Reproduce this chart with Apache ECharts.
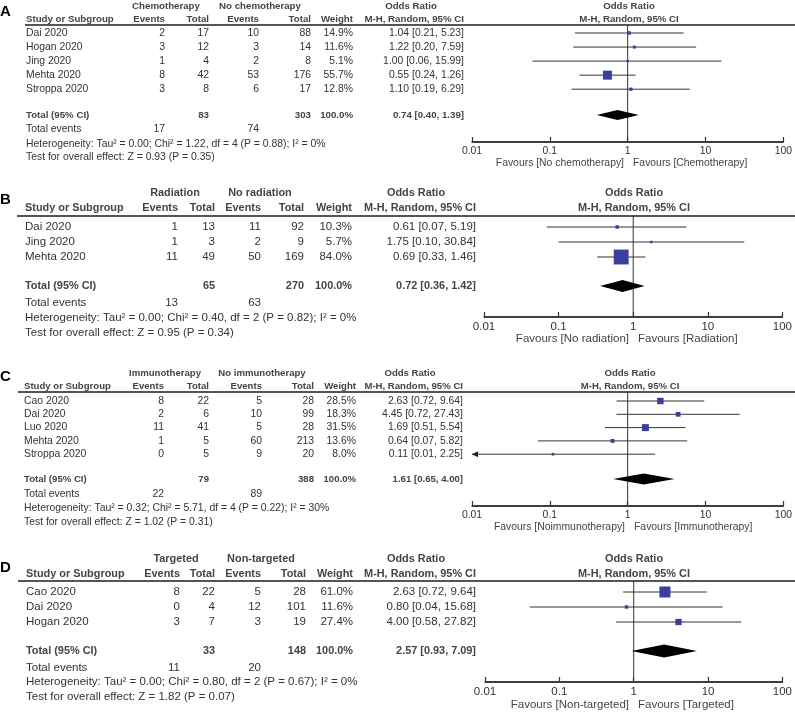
<!DOCTYPE html>
<html><head><meta charset="utf-8">
<script src="https://cdn.jsdelivr.net/npm/echarts@6/dist/echarts.min.js"></script>
<style>html,body{margin:0;padding:0;background:#fff}#c{width:795px;height:717px}</style>
</head><body><div id="c"></div><script>
// ---------------- DATA ----------------
const panelLetters = ['A', 'B', 'C', 'D'];
const tickLabels = ['0.01', '0.1', '1', '10', '100'];
const nullEffect = 1;

// Panel A
const groupsA = ['Chemotherapy', 'No chemotherapy'];
const studiesA = ['Dai 2020', 'Hogan 2020', 'Jing 2020', 'Mehta 2020', 'Stroppa 2020'];
const expEventsA = [2, 3, 1, 8, 3];
const expTotalA = [17, 12, 4, 42, 8];
const ctlEventsA = [10, 3, 2, 53, 6];
const ctlTotalA = [88, 14, 8, 176, 17];
const weightA = [14.9, 11.6, 5.1, 55.7, 12.8];
const orA = [1.04, 1.22, 1.00, 0.55, 1.10];
const lowerA = [0.21, 0.20, 0.06, 0.24, 0.19];
const upperA = [5.23, 7.59, 15.99, 1.26, 6.29];
const totalsA = [83, 303];
const totalEventsA = [17, 74];
const pooledA = [0.74, 0.40, 1.39];
const hetA = 'Tau\u00B2 = 0.00; Chi\u00B2 = 1.22, df = 4 (P = 0.88); I\u00B2 = 0%';
const testA = 'Z = 0.93 (P = 0.35)';
const favoursA = ['Favours [No chemotherapy]', 'Favours [Chemotherapy]'];

// Panel B
const groupsB = ['Radiation', 'No radiation'];
const studiesB = ['Dai 2020', 'Jing 2020', 'Mehta 2020'];
const expEventsB = [1, 1, 11];
const expTotalB = [13, 3, 49];
const ctlEventsB = [11, 2, 50];
const ctlTotalB = [92, 9, 169];
const weightB = [10.3, 5.7, 84.0];
const orB = [0.61, 1.75, 0.69];
const lowerB = [0.07, 0.10, 0.33];
const upperB = [5.19, 30.84, 1.46];
const totalsB = [65, 270];
const totalEventsB = [13, 63];
const pooledB = [0.72, 0.36, 1.42];
const hetB = 'Tau\u00B2 = 0.00; Chi\u00B2 = 0.40, df = 2 (P = 0.82); I\u00B2 = 0%';
const testB = 'Z = 0.95 (P = 0.34)';
const favoursB = ['Favours [No radiation]', 'Favours [Radiation]'];

// Panel C
const groupsC = ['Immunotherapy', 'No immunotherapy'];
const studiesC = ['Cao 2020', 'Dai 2020', 'Luo 2020', 'Mehta 2020', 'Stroppa 2020'];
const expEventsC = [8, 2, 11, 1, 0];
const expTotalC = [22, 6, 41, 5, 5];
const ctlEventsC = [5, 10, 5, 60, 9];
const ctlTotalC = [28, 99, 28, 213, 20];
const weightC = [28.5, 18.3, 31.5, 13.6, 8.0];
const orC = [2.63, 4.45, 1.69, 0.64, 0.11];
const lowerC = [0.72, 0.72, 0.51, 0.07, 0.01];
const upperC = [9.64, 27.43, 5.54, 5.82, 2.25];
const totalsC = [79, 388];
const totalEventsC = [22, 89];
const pooledC = [1.61, 0.65, 4.00];
const hetC = 'Tau\u00B2 = 0.32; Chi\u00B2 = 5.71, df = 4 (P = 0.22); I\u00B2 = 30%';
const testC = 'Z = 1.02 (P = 0.31)';
const favoursC = ['Favours [Noimmunotherapy]', 'Favours [Immunotherapy]'];

// Panel D
const groupsD = ['Targeted', 'Non-targeted'];
const studiesD = ['Cao 2020', 'Dai 2020', 'Hogan 2020'];
const expEventsD = [8, 0, 3];
const expTotalD = [22, 4, 7];
const ctlEventsD = [5, 12, 3];
const ctlTotalD = [28, 101, 19];
const weightD = [61.0, 11.6, 27.4];
const orD = [2.63, 0.80, 4.00];
const lowerD = [0.72, 0.04, 0.58];
const upperD = [9.64, 15.68, 27.82];
const totalsD = [33, 148];
const totalEventsD = [11, 20];
const pooledD = [2.57, 0.93, 7.09];
const hetD = 'Tau\u00B2 = 0.00; Chi\u00B2 = 0.80, df = 2 (P = 0.67); I\u00B2 = 0%';
const testD = 'Z = 1.82 (P = 0.07)';
const favoursD = ['Favours [Non-targeted]', 'Favours [Targeted]'];

const panelsData = [
  {groups: groupsA, studies: studiesA, e1: expEventsA, t1: expTotalA, e2: ctlEventsA, t2: ctlTotalA, w: weightA, or: orA, lo: lowerA, hi: upperA, totals: totalsA, tev: totalEventsA, pooled: pooledA, het: hetA, test: testA, fav: favoursA},
  {groups: groupsB, studies: studiesB, e1: expEventsB, t1: expTotalB, e2: ctlEventsB, t2: ctlTotalB, w: weightB, or: orB, lo: lowerB, hi: upperB, totals: totalsB, tev: totalEventsB, pooled: pooledB, het: hetB, test: testB, fav: favoursB},
  {groups: groupsC, studies: studiesC, e1: expEventsC, t1: expTotalC, e2: ctlEventsC, t2: ctlTotalC, w: weightC, or: orC, lo: lowerC, hi: upperC, totals: totalsC, tev: totalEventsC, pooled: pooledC, het: hetC, test: testC, fav: favoursC},
  {groups: groupsD, studies: studiesD, e1: expEventsD, t1: expTotalD, e2: ctlEventsD, t2: ctlTotalD, w: weightD, or: orD, lo: lowerD, hi: upperD, totals: totalsD, tev: totalEventsD, pooled: pooledD, het: hetD, test: testD, fav: favoursD}
];

// ---------------- LAYOUT ----------------
const layouts = [
  {font: 10.4, bfont: 9.7, letterY: 12, h1: 6, h2: 19, lineY: 25, lineX0: 25, row0: 33, rowH: 14.05, totalY: 115, evY: 129, hetY: 144, testY: 157, axisY: 142, favY: 163, axL: 472, axR: 786, studyX: 26, cols: [165, 209, 259, 311, 353, 464], grpX: [166, 260], orHdrX: 411, dh: 5, k: 0.54},
  {font: 11.5, bfont: 10.9, letterY: 200, h1: 193, h2: 208, lineY: 216, lineX0: 17, row0: 227, rowH: 15, totalY: 286, evY: 303, hetY: 318, testY: 333, axisY: 317, favY: 339, axL: 484, axR: 784, studyX: 25, cols: [178, 215, 261, 304, 352, 476], grpX: [175, 260], orHdrX: 416, dh: 6, k: 0.67},
  {font: 10.4, bfont: 9.6, letterY: 377, h1: 373, h2: 386, lineY: 392, lineX0: 18, row0: 401, rowH: 13.3, totalY: 479, evY: 494, hetY: 508, testY: 522, axisY: 506, favY: 527, axL: 472, axR: 788, studyX: 24, cols: [164, 209, 262, 314, 356, 463], grpX: [165, 262], orHdrX: 410, dh: 5.5, k: 0.62},
  {font: 11.5, bfont: 10.9, letterY: 568, h1: 559, h2: 574, lineY: 581, lineX0: 18, row0: 592, rowH: 15, totalY: 651, evY: 668, hetY: 682, testY: 697, axisY: 682, favY: 705, axL: 485, axR: 783, studyX: 26, cols: [180, 215, 261, 306, 353, 476], grpX: [176, 261], orHdrX: 416, dh: 6.5, k: 0.62}
];

const FONT = '"Liberation Sans", Arial, sans-serif';
const TXT = '#333';
const HDR = '#444';
const SQ = '#3a3f9e';
const LN = '#333';
const X_MIN = 0.01, X_MAX = 100;

function fmtOR(a) { return a[0].toFixed(2) + ' [' + a[1].toFixed(2) + ', ' + a[2].toFixed(2) + ']'; }

const grids = [], xAxes = [], yAxes = [], series = [], graphics = [];

function txt(x, y, s, size, bold, align, color) {
  graphics.push({
    type: 'text', x: x, y: y, silent: true,
    style: {text: s, font: (bold ? 'bold ' : '') + size + 'px ' + FONT, fill: color || TXT,
      textAlign: align || 'left', textVerticalAlign: 'middle'}
  });
}

panelsData.forEach(function (P, pi) {
  const L = layouts[pi];
  const f = L.font, bf = L.bfont;
  const yMin = (L.lineY - L.row0) / L.rowH;
  const yMax = (L.axisY - L.row0) / L.rowH;
  const totalRow = (L.totalY - L.row0) / L.rowH;
  const rowY = function (r) { return L.row0 + r * L.rowH; };

  grids.push({left: L.axL, top: L.lineY, width: L.axR - L.axL, height: L.axisY - L.lineY, containLabel: false});
  xAxes.push({
    gridIndex: pi, type: 'log', logBase: 10, min: X_MIN, max: X_MAX, position: 'bottom',
    axisLine: {show: true, onZero: false, lineStyle: {color: LN, width: 1.5}},
    axisTick: {show: true, inside: true, length: 5, lineStyle: {color: LN, width: 1.2}},
    minorTick: {show: false}, splitLine: {show: false},
    axisLabel: {margin: 4, fontSize: f, fontFamily: FONT, color: TXT,
      formatter: function (v) { return tickLabels[Math.round(Math.log10(v)) + 2]; }}
  });
  yAxes.push({gridIndex: pi, type: 'value', inverse: true, min: yMin, max: yMax, show: false});

  // null-effect line
  series.push({
    type: 'line', xAxisIndex: pi, yAxisIndex: pi, symbol: 'none', silent: true, z: 1,
    lineStyle: {color: LN, width: 1}, data: [[nullEffect, yMin], [nullEffect, yMax]]
  });
  // axis baseline (scale range)
  series.push({
    type: 'line', xAxisIndex: pi, yAxisIndex: pi, symbol: 'none', silent: true, z: 1, clip: false,
    lineStyle: {color: LN, width: 1.5}, data: [[X_MIN, yMax], [X_MAX, yMax]]
  });

  // studies
  const k = L.k;
  series.push({
    type: 'custom', xAxisIndex: pi, yAxisIndex: pi, silent: true, z: 3,
    data: P.studies.map(function (s, i) { return [P.or[i], i, P.lo[i], P.hi[i], P.w[i]]; }),
    renderItem: function (params, api) {
      const est = api.value(0), r = api.value(1), lo = api.value(2), hi = api.value(3), w = api.value(4);
      const p0 = api.coord([Math.max(lo, X_MIN), r]);
      const p1 = api.coord([Math.min(hi, X_MAX), r]);
      const pc = api.coord([est, r]);
      const s = Math.max(2.5, k * Math.pow(w, 0.7));
      const ch = [
        {type: 'line', shape: {x1: p0[0], y1: p0[1], x2: p1[0], y2: p1[1]}, style: {stroke: LN, lineWidth: 1}},
        {type: 'rect', shape: {x: pc[0] - s / 2, y: pc[1] - s / 2, width: s, height: s}, style: {fill: SQ}}
      ];
      if (lo <= X_MIN) {
        ch.push({type: 'polygon', shape: {points: [[p0[0], p0[1]], [p0[0] + 6, p0[1] - 3], [p0[0] + 6, p0[1] + 3]]}, style: {fill: '#222'}});
      }
      return {type: 'group', children: ch};
    }
  });

  // pooled diamond
  const dh = L.dh;
  series.push({
    type: 'custom', xAxisIndex: pi, yAxisIndex: pi, silent: true, z: 3,
    data: [[P.pooled[0], totalRow, P.pooled[1], P.pooled[2]]],
    renderItem: function (params, api) {
      const pe = api.coord([api.value(0), api.value(1)]);
      const pl = api.coord([api.value(2), api.value(1)]);
      const ph = api.coord([api.value(3), api.value(1)]);
      return {type: 'polygon', shape: {points: [[pl[0], pl[1]], [pe[0], pe[1] - dh], [ph[0], ph[1]], [pe[0], pe[1] + dh]]}, style: {fill: '#000'}};
    }
  });

  // ---- table text ----
  const C = L.cols;
  graphics.push({type: 'text', x: 0, y: L.letterY, silent: true,
    style: {text: panelLetters[pi], font: 'bold 15px ' + FONT, fill: '#000', textAlign: 'left', textVerticalAlign: 'middle'}});
  txt(L.grpX[0], L.h1, P.groups[0], bf, true, 'center', HDR);
  txt(L.grpX[1], L.h1, P.groups[1], bf, true, 'center', HDR);
  txt(L.orHdrX, L.h1, 'Odds Ratio', bf, true, 'center', HDR);
  txt(L.studyX, L.h2, 'Study or Subgroup', bf, true, 'left', HDR);
  txt(C[0], L.h2, 'Events', bf, true, 'right', HDR);
  txt(C[1], L.h2, 'Total', bf, true, 'right', HDR);
  txt(C[2], L.h2, 'Events', bf, true, 'right', HDR);
  txt(C[3], L.h2, 'Total', bf, true, 'right', HDR);
  txt(C[4], L.h2, 'Weight', bf, true, 'right', HDR);
  txt(C[5], L.h2, 'M-H, Random, 95% CI', bf, true, 'right', HDR);
  const mid = (L.axL + L.axR) / 2;
  txt(mid, L.h1, 'Odds Ratio', bf, true, 'center', HDR);
  txt(mid, L.h2, 'M-H, Random, 95% CI', bf, true, 'center', HDR);
  graphics.push({type: 'line', silent: true, shape: {x1: L.lineX0, y1: L.lineY, x2: 795, y2: L.lineY}, style: {stroke: '#555', lineWidth: 2}});

  P.studies.forEach(function (s, i) {
    const y = rowY(i);
    txt(L.studyX, y, s, f, false, 'left');
    txt(C[0], y, String(P.e1[i]), f, false, 'right');
    txt(C[1], y, String(P.t1[i]), f, false, 'right');
    txt(C[2], y, String(P.e2[i]), f, false, 'right');
    txt(C[3], y, String(P.t2[i]), f, false, 'right');
    txt(C[4], y, P.w[i].toFixed(1) + '%', f, false, 'right');
    txt(C[5], y, fmtOR([P.or[i], P.lo[i], P.hi[i]]), f, false, 'right');
  });
  txt(L.studyX, L.totalY, 'Total (95% CI)', bf, true, 'left', HDR);
  txt(C[1], L.totalY, String(P.totals[0]), bf, true, 'right', HDR);
  txt(C[3], L.totalY, String(P.totals[1]), bf, true, 'right', HDR);
  txt(C[4], L.totalY, '100.0%', bf, true, 'right', HDR);
  txt(C[5], L.totalY, fmtOR(P.pooled), bf, true, 'right', HDR);
  txt(L.studyX, L.evY, 'Total events', f, false, 'left');
  txt(C[0], L.evY, String(P.tev[0]), f, false, 'right');
  txt(C[2], L.evY, String(P.tev[1]), f, false, 'right');
  txt(L.studyX, L.hetY, 'Heterogeneity: ' + P.het, f, false, 'left');
  txt(L.studyX, L.testY, 'Test for overall effect: ' + P.test, f, false, 'left');
  txt(mid - 5, L.favY, P.fav[0], f, false, 'right', HDR);
  txt(mid + 4, L.favY, P.fav[1], f, false, 'left', HDR);
});

const chart = echarts.init(document.getElementById('c'), null, {renderer: 'canvas'});
chart.setOption({
  backgroundColor: '#fff',
  animation: false,
  grid: grids, xAxis: xAxes, yAxis: yAxes, series: series,
  graphic: {elements: graphics}
});
</script></body></html>
